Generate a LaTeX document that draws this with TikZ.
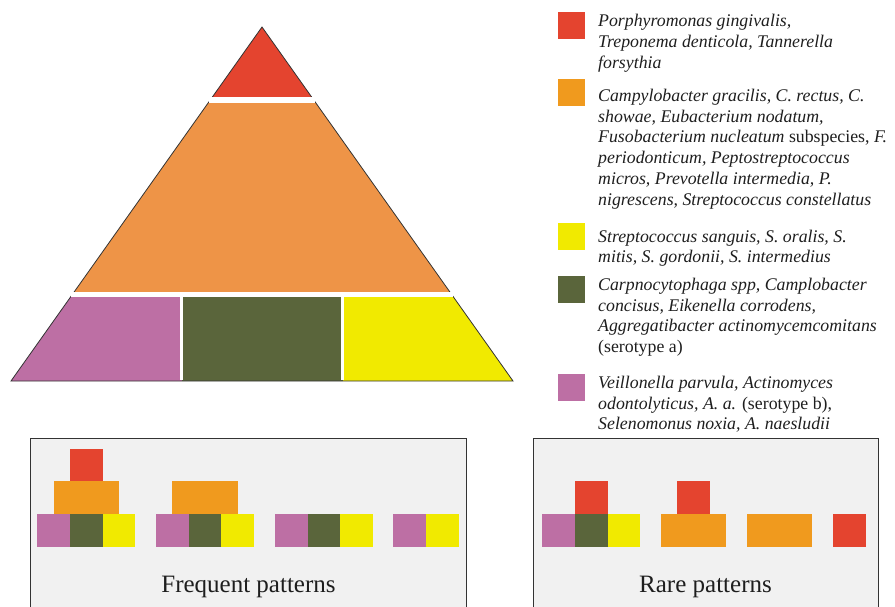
\documentclass[tikz,border=0pt]{standalone}
\usepackage{fontspec}
\setmainfont{Liberation Serif}
\usetikzlibrary{positioning, calc}
\definecolor{pyrred}{HTML}{E4442F}
\definecolor{pyrorange}{HTML}{EE9447}
\definecolor{keyorange}{HTML}{F09A1E}
\definecolor{blockyellow}{HTML}{F1EA00}
\definecolor{mossgreen}{HTML}{5A653B}
\definecolor{mauve}{HTML}{BD6FA4}
\definecolor{panelgray}{HTML}{F1F1F1}
\definecolor{panelline}{HTML}{333333}
\definecolor{inkblack}{HTML}{1E1E1E}

\tikzset{
  key/.style={minimum size=27pt, inner sep=0pt, outer sep=0pt},
  keytext/.style={inner sep=0pt, align=left, text=inkblack,
    font=\fontsize{17.8}{20.7}\selectfont\itshape},
  panel/.style={draw=panelline, line width=1pt, fill=panelgray},
  patternlabel/.style={anchor=base, inner sep=0pt, text=inkblack,
    font=\fontsize{25}{30}\selectfont}
}

\begin{document}
\begin{tikzpicture}[x=1pt, y=-1pt]
  \clip (0,0) rectangle (895,607);

  % Pyramid
  \coordinate (apex) at (262,27);
  \coordinate (bl) at (11,381);
  \coordinate (br) at (513,381);
  \begin{scope}
    \clip (apex) -- (bl) -- (br) -- cycle;
    \fill[pyrred] (0,0) rectangle (530,100);
    \fill[pyrorange] (0,100) rectangle (530,294.2);
    \fill[mauve] (0,294.2) rectangle (181.7,390);
    \fill[mossgreen] (181.7,294.2) rectangle (342.7,390);
    \fill[blockyellow] (342.7,294.2) rectangle (530,390);
  \end{scope}
  \draw[line width=0.8pt, panelline] (apex) -- (bl) -- (br) -- cycle;
  % white gaps between the layers
  \draw[white, line width=5.4pt, shorten <=-1.5pt, shorten >=-1.5pt]
    ($(apex)!0.2062!(bl)$) -- ($(apex)!0.2062!(br)$);
  \draw[white, line width=5pt, shorten <=-1.5pt, shorten >=-1.5pt]
    ($(apex)!0.7548!(bl)$) -- ($(apex)!0.7548!(br)$);
  \draw[white, line width=3.3pt] (181.7,294.2) -- (181.7,380.4);
  \draw[white, line width=3.3pt] (342.7,294.2) -- (342.7,380.4);

  % Legend
  \node[key, fill=pyrred] (keyRed) at (571.5,25.8) {};
  \node[keytext, right=13pt of keyRed.north east, anchor=north west, yshift=-2pt] (txtRed)
    {Porphyromonas gingivalis,\\Treponema denticola, Tannerella\\forsythia};

  \node[key, fill=keyorange] (keyOrange) at (571.5,92.5) {};
  \node[keytext, right=13pt of keyOrange.north east, anchor=north west, yshift=-10pt] (txtOrange)
    {Campylobacter gracilis, C. rectus, C.\\showae, Eubacterium nodatum,\\
     Fusobacterium nucleatum {\upshape subspecies,} F.\\periodonticum, Peptostreptococcus\\
     micros, Prevotella intermedia, P.\\nigrescens, Streptococcus constellatus};

  \node[key, fill=blockyellow] (keyYellow) at (571.5,236.2) {};
  \node[keytext, right=13pt of keyYellow.north east, anchor=north west, yshift=-7pt] (txtYellow)
    {Streptococcus sanguis, S. oralis, S.\\mitis, S. gordonii, S. intermedius};

  \node[key, fill=mossgreen] (keyGreen) at (571.5,289.5) {};
  \node[keytext, right=13pt of keyGreen.north east, anchor=north west, yshift=-2pt] (txtGreen)
    {Carpnocytophaga spp, Camplobacter\\concisus, Eikenella corrodens,\\
     Aggregatibacter actinomycemcomitans\\{\upshape (serotype a)}};

  \node[key, fill=mauve] (keyMauve) at (571.5,387.5) {};
  \node[keytext, right=13pt of keyMauve.north east, anchor=north west, yshift=-2pt] (txtMauve)
    {Veillonella parvula, Actinomyces\\odontolyticus, A. a. {\upshape (serotype b),}\\
     Selenomonus noxia, A. naesludii};

  % Frequent patterns panel
  \draw[panel] (30.7,438.3) rectangle (466.7,612);
  \fill[pyrred] (70,448.6) rectangle ++(32.7,32.7);
  \fill[keyorange] (53.7,481.3) rectangle ++(65.4,32.7);
  \fill[mauve] (37.3,514) rectangle ++(32.7,32.7);
  \fill[mossgreen] (70,514) rectangle ++(32.7,32.7);
  \fill[blockyellow] (102.7,514) rectangle ++(32.7,32.7);

  \fill[keyorange] (172.4,481.3) rectangle ++(65.4,32.7);
  \fill[mauve] (156,514) rectangle ++(32.7,32.7);
  \fill[mossgreen] (188.7,514) rectangle ++(32.7,32.7);
  \fill[blockyellow] (221.4,514) rectangle ++(32.7,32.7);

  \fill[mauve] (275,514) rectangle ++(32.7,32.7);
  \fill[mossgreen] (307.7,514) rectangle ++(32.7,32.7);
  \fill[blockyellow] (340.4,514) rectangle ++(32.7,32.7);

  \fill[mauve] (393.3,514) rectangle ++(32.7,32.7);
  \fill[blockyellow] (426,514) rectangle ++(32.7,32.7);
  \node[patternlabel] (lblFrequent) at (248.5,592) {Frequent patterns};

  % Rare patterns panel
  \draw[panel] (533.3,438.3) rectangle (878.3,612);
  \fill[pyrred] (575,481.3) rectangle ++(32.7,32.7);
  \fill[mauve] (542.3,514) rectangle ++(32.7,32.7);
  \fill[mossgreen] (575,514) rectangle ++(32.7,32.7);
  \fill[blockyellow] (607.7,514) rectangle ++(32.7,32.7);

  \fill[pyrred] (677.3,481.3) rectangle ++(32.7,32.7);
  \fill[keyorange] (661,514) rectangle ++(65.4,32.7);

  \fill[keyorange] (747,514) rectangle ++(65.4,32.7);

  \fill[pyrred] (833.3,514) rectangle ++(32.7,32.7);
  \node[patternlabel] (lblRare) at (705.5,592) {Rare patterns};
\end{tikzpicture}
\end{document}
